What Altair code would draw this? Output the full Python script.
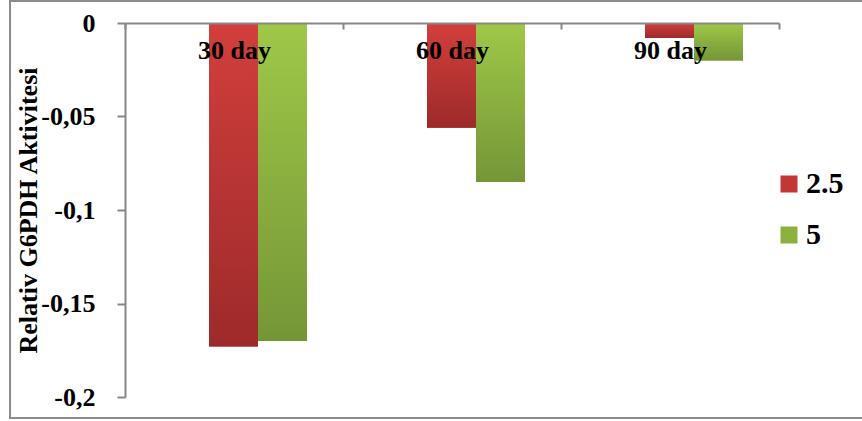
import altair as alt
import pandas as pd

# Relative G6PDH activity per exposure time and dose
days = ["30 day", "60 day", "90 day"]
series = ["2.5", "5"]
dose_2_5 = [-0.173, -0.056, -0.008]
dose_5 = [-0.170, -0.085, -0.020]
y_ticks = [0, -0.05, -0.1, -0.15, -0.2]

df = pd.DataFrame({
    "day": days * 2,
    "series": [series[0]] * 3 + [series[1]] * 3,
    "value": dose_2_5 + dose_5,
})

W, H = 654, 374
FONT = "'Liberation Serif', 'Times New Roman', serif"
AXIS_GRAY = "#878787"

red_grad = {
    "gradient": "linear", "x1": 0, "y1": 0, "x2": 0, "y2": 1,
    "stops": [{"offset": 0, "color": "#D23F3C"}, {"offset": 1, "color": "#9D2A2A"}],
}
green_grad = {
    "gradient": "linear", "x1": 0, "y1": 0, "x2": 0, "y2": 1,
    "stops": [{"offset": 0, "color": "#9FC848"}, {"offset": 1, "color": "#759637"}],
}

x_enc = alt.X(
    "day:N", sort=days, title=None,
    scale=alt.Scale(paddingInner=0, paddingOuter=0),
    axis=alt.Axis(
        orient="bottom", offset=-H, labelAngle=0, tickBand="extent",
        tickSize=6, tickWidth=2, tickColor=AXIS_GRAY,
        domainColor=AXIS_GRAY, domainWidth=2,
        labelFont=FONT, labelFontSize=26, labelFontWeight="bold",
        labelColor="black", labelPadding=8, zindex=1,
    ),
)
xoff_enc = alt.XOffset(
    "series:N",
    scale=alt.Scale(domain=series, range=[84, 182], paddingInner=0, paddingOuter=0),
)
y_enc = alt.Y(
    "value:Q",
    scale=alt.Scale(domain=[-0.2, 0], nice=False),
    axis=alt.Axis(
        values=y_ticks, grid=False,
        labelExpr="replace(toString(datum.value), '.', ',')",
        labelFont=FONT, labelFontSize=26, labelFontWeight="bold",
        labelColor="black", labelPadding=22,
        tickSize=8, tickWidth=2, tickColor=AXIS_GRAY,
        domainColor=AXIS_GRAY, domainWidth=2,
        title="Relativ G6PDH Aktivitesi", titleFont=FONT, titleFontSize=26,
        titleFontWeight="bold", titleColor="black",
        titleX=-97, titleY=H / 2, titleAlign="center", titleBaseline="middle",
        titleAngle=270,
    ),
)

base = alt.Chart(df)

bars = base.mark_bar().encode(
    x=x_enc, xOffset=xoff_enc, y=y_enc,
    color=alt.Color(
        "series:N",
        scale=alt.Scale(domain=series, range=["#C33634", "#8BB13F"]),
        legend=alt.Legend(
            title=None, orient="none", legendX=649, legendY=146, padding=0,
            symbolType="square", symbolSize=289, symbolStrokeWidth=0,
            labelFont=FONT, labelFontSize=30, labelFontWeight="bold",
            labelColor="black", labelOffset=2, rowPadding=21,
        ),
    ),
)

grad_bars = base.mark_bar().encode(
    x=x_enc, xOffset=xoff_enc, y=y_enc,
    fill=alt.condition(alt.datum.series == "2.5", alt.value(red_grad), alt.value(green_grad)),
)

frame = alt.Chart(pd.DataFrame({"k": [0]})).mark_rect(
    filled=False, stroke="#8C8C8C", strokeWidth=2
).encode(
    x=alt.value(-115), x2=alt.value(745), y=alt.value(-22), y2=alt.value(395)
)

chart = alt.layer(frame, bars, grad_bars).properties(
    width=W, height=H,
    autosize=alt.AutoSizeParams(type="none"),
    padding={"left": 125, "top": 23, "right": 83, "bottom": 24},
    background="white",
).configure_view(stroke=None)

chart.save("out.html", embed_options={"renderer": "svg", "actions": False})
